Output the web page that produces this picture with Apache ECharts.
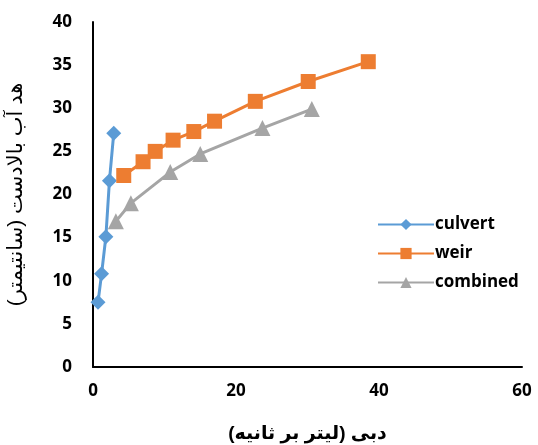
<!DOCTYPE html>
<html>
<head>
<meta charset="utf-8">
<script src="https://cdn.jsdelivr.net/npm/echarts@6/dist/echarts.min.js"></script>
<style>
  html, body { margin: 0; padding: 0; background: #fff; }
  #chart { width: 538px; height: 445px; }
</style>
</head>
<body>
<div id="chart"></div>
<script>
// Discharge (L/s) vs upstream head (cm)
const culvertQ = [0.7, 1.2, 1.8, 2.3, 2.9];
const culvertH = [7.5, 10.8, 15.1, 21.6, 27.1];

const weirQ = [4.3, 7.0, 8.7, 11.2, 14.1, 17.0, 22.7, 30.1, 38.5];
const weirH = [22.2, 23.8, 25.0, 26.3, 27.3, 28.5, 30.8, 33.1, 35.4];

const combinedQ = [3.2, 5.3, 10.8, 15.0, 23.7, 30.6];
const combinedH = [16.9, 19.0, 22.6, 24.7, 27.7, 29.9];

const seriesNames = ['culvert', 'weir', 'combined'];
const xTitle = 'دبی (لیتر بر ثانیه)';
const yTitle = 'هد آب بالادست (سانتیمتر)';

const pairs = (xs, ys) => xs.map((x, i) => [x, ys[i]]);

const font = '"Open Sans", "Noto Sans", sans-serif';
const arabicFont = 'Arial, "Liberation Sans", "DejaVu Sans", sans-serif';
const chart = echarts.init(document.getElementById('chart'));

chart.setOption({
  animation: false,
  grid: { left: 93, right: 16, top: 22, bottom: 78, containLabel: false, outerBoundsMode: 'none' },
  xAxis: {
    type: 'value', min: 0, max: 60, interval: 20,
    axisLine: { show: true, lineStyle: { color: '#000', width: 2 } },
    axisTick: { show: false },
    splitLine: { show: false },
    axisLabel: { color: '#000', fontSize: 17, fontWeight: 'bold', fontFamily: font, margin: 16 },
    name: xTitle, nameLocation: 'middle', nameGap: 57,
    nameTextStyle: { color: '#000', fontSize: 19, fontWeight: 'bold', fontFamily: arabicFont }
  },
  yAxis: {
    type: 'value', min: 0, max: 40, interval: 5,
    axisLine: { show: true, lineStyle: { color: '#000', width: 2 } },
    axisTick: { show: false },
    splitLine: { show: false },
    axisLabel: { color: '#000', fontSize: 17, fontWeight: 'bold', fontFamily: font, margin: 21 },
    name: yTitle, nameLocation: 'middle', nameGap: 66, nameRotate: 90,
    nameTextStyle: { color: '#000', fontSize: 21, fontFamily: arabicFont }
  },
  legend: {
    orient: 'vertical',
    left: 372, top: 211,
    itemWidth: 56, itemHeight: 14, itemGap: 12,
    textStyle: { color: '#000', fontSize: 17, fontWeight: 'bold', fontFamily: font, padding: [0, 0, 0, -4] },
    data: seriesNames
  },
  series: [
    {
      name: seriesNames[0], type: 'line', data: pairs(culvertQ, culvertH),
      symbol: 'diamond', symbolSize: 15,
      lineStyle: { color: '#5B9BD5', width: 3 },
      itemStyle: { color: '#5B9BD5' }
    },
    {
      name: seriesNames[1], type: 'line', data: pairs(weirQ, weirH),
      symbol: 'rect', symbolSize: 15,
      lineStyle: { color: '#ED7D31', width: 3 },
      itemStyle: { color: '#ED7D31' }
    },
    {
      name: seriesNames[2], type: 'line', data: pairs(combinedQ, combinedH),
      symbol: 'triangle', symbolSize: 16,
      lineStyle: { color: '#A5A5A5', width: 3 },
      itemStyle: { color: '#A5A5A5' }
    }
  ]
});
</script>
</body>
</html>
